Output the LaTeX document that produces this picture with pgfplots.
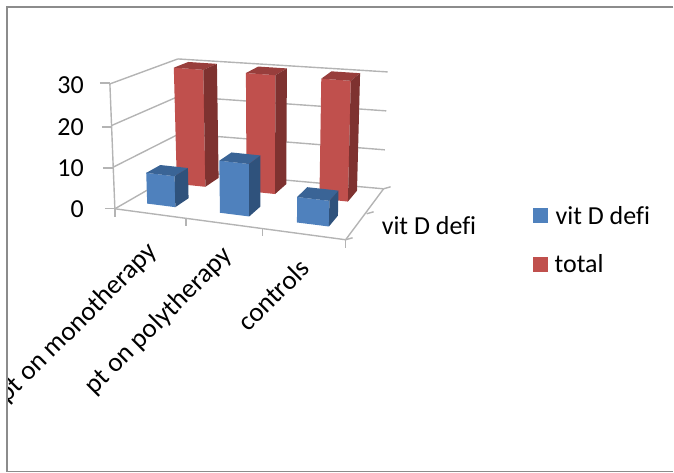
\documentclass[border=0pt]{standalone}
\usepackage{pgfplots}
\pgfplotsset{compat=1.18}
\usepackage{fontspec}
\setmainfont{Carlito}[Ligatures=NoCommon]

\definecolor{bluefront}{HTML}{4F81BD}
\definecolor{bluetop}{HTML}{3A6496}
\definecolor{blueside}{HTML}{2F527C}
\definecolor{redfront}{HTML}{C0504D}
\definecolor{redtop}{HTML}{983E3C}
\definecolor{redside}{HTML}{7E3230}
\definecolor{gridgrey}{HTML}{B4B4B4}
\definecolor{framegrey}{HTML}{8C8C8C}

% p = along categories, q = depth, r = value / 30, all 0..1; result in picture pixels
\pgfplotsset{box3d/.style={/pgf/declare function={
  fx(\p,\q,\r)=(1-\r)*((1-\q)*((1-\p)*115+\p*346)+\q*((1-\p)*181+\p*384))
              +\r*((1-\q)*((1-\p)*110+\p*349)+\q*((1-\p)*178+\p*388));
  fy(\p,\q,\r)=(1-\r)*((1-\q)*((1-\p)*209+\p*240)+\q*((1-\p)*171+\p*189))
              +\r*((1-\q)*((1-\p)*84+\p*108)+\q*((1-\p)*59+\p*72));
}}}
\pgfplotsset{/pgfplots/table/proj/.style={row sep=\\,
  x expr={fx(\thisrow{p},\thisrow{q},\thisrow{v}/30)},
  y expr={fy(\thisrow{p},\thisrow{q},\thisrow{v}/30)}}}

% wall or floor line between two box points
\newcommand{\wall}[6]{\addplot[gridgrey,line width=1.4pt] table[proj]{p q v\\ #1 #2 #3\\ #4 #5 #6\\};}
% bar: p0 p1 q0 q1 value front top side
\newcommand{\barbox}[8]{%
  \addplot[fill=#6,draw=none] table[proj]{p q v\\ #1 #3 0\\ #2 #3 0\\ #2 #3 #5\\ #1 #3 #5\\};
  \addplot[fill=#7,draw=none] table[proj]{p q v\\ #1 #3 #5\\ #2 #3 #5\\ #2 #4 #5\\ #1 #4 #5\\};
  \addplot[fill=#8,draw=none] table[proj]{p q v\\ #2 #3 0\\ #2 #4 0\\ #2 #4 #5\\ #2 #3 #5\\};
}

\begin{document}
\begin{tikzpicture}
\begin{axis}[
  box3d,
  hide axis,
  scale only axis,
  width=674pt, height=473pt,
  xmin=0, xmax=674, ymin=0, ymax=473,
  y dir=reverse,
  clip=false,
  every axis plot/.append style={forget plot},
]
\path (axis cs:0,0) (axis cs:674,473);

% back wall
\wall{0}{1}{0}{1}{1}{0}
\wall{0}{1}{10}{1}{1}{10}
\wall{0}{1}{20}{1}{1}{20}
\wall{0}{1}{30}{1}{1}{30}
% left wall
\wall{0}{0}{0}{0}{0}{30}
\wall{0}{0}{0}{0}{1}{0}
\wall{0}{0}{10}{0}{1}{10}
\wall{0}{0}{20}{0}{1}{20}
\wall{0}{0}{30}{0}{1}{30}
% floor
\wall{0}{0}{0}{1}{0}{0}
\wall{1}{0}{0}{1}{1}{0}

% ticks, in pixels
\addplot[gridgrey,line width=1.4pt] coordinates {(100,83) (110,83)};
\addplot[gridgrey,line width=1.4pt] coordinates {(102,127) (111,127)};
\addplot[gridgrey,line width=1.4pt] coordinates {(103,168) (113,168)};
\addplot[gridgrey,line width=1.4pt] coordinates {(105,209) (115,209)};
\addplot[gridgrey,line width=1.4pt] coordinates {(115,209) (115,217)};
\addplot[gridgrey,line width=1.4pt] coordinates {(186,219) (186,226)};
\addplot[gridgrey,line width=1.4pt] coordinates {(263,229) (263,236)};
\addplot[gridgrey,line width=1.4pt] coordinates {(346,240) (346,248)};
\addplot[gridgrey,line width=1.4pt] coordinates {(346,240) (353,238)};
\addplot[gridgrey,line width=1.4pt] coordinates {(367,214) (374,212)};
\addplot[gridgrey,line width=1.4pt] coordinates {(384,189) (391,187)};

% total
\barbox{0.075}{0.21}{0.70}{0.92}{30}{redfront}{redtop}{redside}
\barbox{0.405}{0.54}{0.70}{0.92}{30}{redfront}{redtop}{redside}
\barbox{0.75}{0.885}{0.70}{0.92}{30}{redfront}{redtop}{redside}
% vit D defi
\barbox{0.085}{0.21}{0.20}{0.42}{7.5}{bluefront}{bluetop}{blueside}
\barbox{0.408}{0.538}{0.20}{0.42}{12.5}{bluefront}{bluetop}{blueside}
\barbox{0.75}{0.892}{0.20}{0.42}{6}{bluefront}{bluetop}{blueside}

% legend swatches
\addplot[fill=bluefront,draw=none] coordinates {(534,208) (549,208) (549,223) (534,223)};
\addplot[fill=redfront,draw=none] coordinates {(534,257) (549,257) (549,272) (534,272)};

\def\fs{\fontsize{26}{26}\selectfont}
\def\fr{\fontsize{27}{27}\selectfont}
\node[font=\fs,anchor=east,inner sep=0pt] at (axis cs:84,85) {30};
\node[font=\fs,anchor=east,inner sep=0pt] at (axis cs:84,127) {20};
\node[font=\fs,anchor=east,inner sep=0pt] at (axis cs:84,168) {10};
\node[font=\fs,anchor=east,inner sep=0pt] at (axis cs:84,209) {0};
\node[font=\fs,anchor=west,inner sep=0pt] at (axis cs:382,226) {vit D defi};
\node[font=\fs,anchor=west,inner sep=0pt] at (axis cs:556,216) {vit D defi};
\node[font=\fs,anchor=west,inner sep=0pt] at (axis cs:555,264) {total};
\node[overlay,font=\fr,rotate=45,anchor=north east,inner sep=0pt] at (axis cs:145,240) {pt on monotherapy};
\node[font=\fr,rotate=45,anchor=north east,inner sep=0pt] at (axis cs:220,244) {pt on polytherapy};
\node[font=\fr,rotate=45,anchor=north east,inner sep=0pt] at (axis cs:298,257) {controls};

% frame, open on the right; text runs under its left edge
\addplot[fill=white,draw=none] coordinates {(0,0) (6,0) (6,473) (0,473)};
\addplot[framegrey,line width=1.4pt] coordinates {(674,7) (7,7) (7,472) (674,472)};
\end{axis}
\end{tikzpicture}
\end{document}
